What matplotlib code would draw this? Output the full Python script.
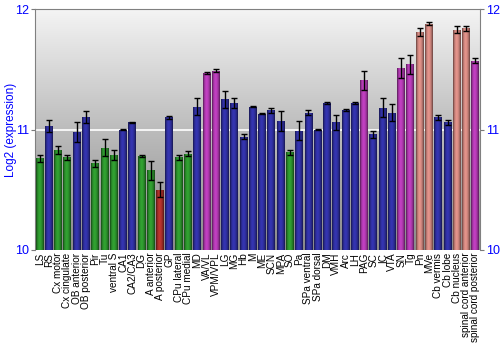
import numpy as np
import matplotlib.pyplot as plt
from matplotlib.colors import LinearSegmentedColormap, to_rgb

plt.rcParams['font.family'] = ['Liberation Sans', 'DejaVu Sans']

regions = ['LS', 'RS', 'Cx motor', 'Cx cingulate', 'OB anterior', 'OB posterior',
           'Pir', 'Tu', 'ventral S', 'CA1', 'CA2/CA3', 'DG', 'A anterior',
           'A posterior', 'GP', 'CPu lateral', 'CPu medial', 'MD', 'VA/VL',
           'VPM/VPL', 'LG', 'MG', 'Hb', 'M', 'ME', 'SCN', 'MPA', 'SO', 'Pa',
           'SPa ventral', 'SPa dorsal', 'DM', 'VMH', 'Arc', 'LH', 'PAG', 'SC',
           'IC', 'VTA', 'SN', 'Tg', 'Pn', 'MVe', 'Cb vermis', 'Cb lobe',
           'Cb nucleus', 'spinal cord anterior', 'spinal cord posterior']

expression = [10.76, 11.03, 10.83, 10.77, 10.98, 11.10,
              10.72, 10.85, 10.79, 11.00, 11.06, 10.78, 10.66,
              10.50, 11.10, 10.77, 10.80, 11.19, 11.47,
              11.49, 11.25, 11.22, 10.94, 11.19, 11.13, 11.16, 11.07, 10.81, 10.99,
              11.14, 11.00, 11.22, 11.06, 11.16, 11.22, 11.41, 10.96,
              11.18, 11.14, 11.51, 11.54, 11.81, 11.88, 11.10, 11.06,
              11.83, 11.84, 11.57]

sem = [0.03, 0.05, 0.03, 0.02, 0.08, 0.05,
       0.03, 0.07, 0.04, 0.005, 0.005, 0.01, 0.08,
       0.06, 0.01, 0.02, 0.02, 0.07, 0.005,
       0.015, 0.07, 0.04, 0.02, 0.005, 0.005, 0.02, 0.08, 0.02, 0.08,
       0.02, 0.005, 0.01, 0.06, 0.01, 0.005, 0.08, 0.03,
       0.08, 0.07, 0.08, 0.08, 0.03, 0.015, 0.02, 0.02,
       0.03, 0.02, 0.02]

# g = green, b = blue, m = magenta, s = salmon, r = red
groups = ['g', 'b', 'g', 'g', 'b', 'b',
          'g', 'g', 'g', 'b', 'b', 'g', 'g',
          'r', 'b', 'g', 'g', 'b', 'm',
          'm', 'b', 'b', 'b', 'b', 'b', 'b', 'b', 'g', 'b',
          'b', 'b', 'b', 'b', 'b', 'b', 'm', 'b',
          'b', 'b', 'm', 'm', 's', 's', 'b', 'b',
          's', 's', 'm']

palette = {'g': '#2f9a2f', 'b': '#3232a8', 'm': '#b83cb8',
           's': '#d98c84', 'r': '#b4322c'}

fig = plt.figure(figsize=(5, 3.5), dpi=100)
ax = fig.add_axes([0.07, 0.286, 0.89, 0.688])

ymin, ymax = 10, 12
n = len(regions)
x = np.arange(n)

# vertical grey gradient behind the bars, dark at the bottom
bg = np.linspace(0, 1, 256).reshape(-1, 1)
bg_cmap = LinearSegmentedColormap.from_list('bg', ['#8a8a8a', '#bcbcbc', '#f4f4f4'])
ax.imshow(bg, extent=(-0.5, n - 0.5, ymin, ymax), cmap=bg_cmap, aspect='auto',
          zorder=0, origin='lower')
ax.axhline(11, color='white', lw=1.2, zorder=1)

bars = ax.bar(x, np.array(expression) - ymin, bottom=ymin, width=0.86,
              color=[palette[g] for g in groups], zorder=2)

# shade each bar like a cylinder
shade = np.array([0.55, 0.8, 0.95, 1.05, 1.05, 1.0, 0.9, 0.75, 0.55])
for bar, g in zip(bars, groups):
    base = np.array(to_rgb(palette[g]))
    cols = np.clip(base[None, :] * shade[:, None], 0, 1)
    img = cols[None, :, :]
    x0, y0 = bar.get_x(), bar.get_y()
    im = ax.imshow(img, extent=(x0, x0 + bar.get_width(), y0, y0 + bar.get_height()),
                   aspect='auto', zorder=3, interpolation='bilinear')
    im.set_clip_path(bar)

ax.errorbar(x, expression, yerr=sem, fmt='none', ecolor='black', elinewidth=1,
            capsize=2, capthick=1, zorder=4)

ax.set_xlim(-0.5, n - 0.5)
ax.set_ylim(ymin, ymax)
ax.set_xticks(x)
ax.set_xticklabels(regions, rotation=90, fontsize=7.2)
ax.tick_params(axis='x', length=0, pad=2)
ax.set_yticks([10, 11, 12])
ax.tick_params(axis='y', colors='#7a7a7a', labelcolor='blue', labelsize=9,
               length=3, pad=1.5, right=True, labelright=True, direction='out')
ax.set_ylabel('Log2 (expression)', color='blue', fontsize=8.5)
ax.yaxis.set_label_coords(-0.041, 0.5)

for side in ['left', 'right', 'top']:
    ax.spines[side].set_color('#808080')
ax.spines['bottom'].set_visible(False)

fig.savefig('out.png', dpi=100)
